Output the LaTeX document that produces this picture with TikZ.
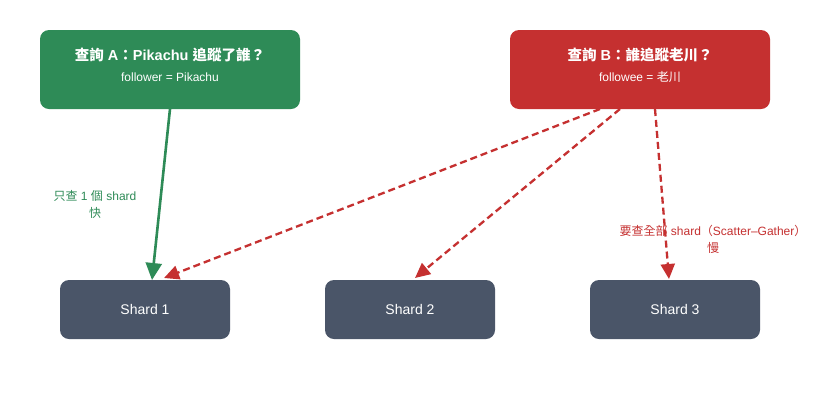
\documentclass[tikz,border=0pt]{standalone}
\usepackage{fontspec}
\setmainfont{Liberation Sans}
\newfontfamily\cjk{Noto Sans CJK TC}
\newcommand{\zh}[1]{{\cjk #1}}
\usetikzlibrary{arrows.meta}
\definecolor{cgreen}{HTML}{2E8B57}
\definecolor{cred}{HTML}{C53030}
\definecolor{cshard}{HTML}{4A5568}
\begin{document}
\begin{tikzpicture}[x=1pt,y=-1pt,
  qbox/.style={rounded corners=9pt,inner sep=0pt},
  shardbox/.style={fill=cshard,rounded corners=9pt,minimum width=170pt,minimum height=59pt,inner sep=0pt,text=white,font=\fontsize{14}{16}\selectfont},
  greenarrow/.style={draw=cgreen,line width=2.6pt,-{Triangle[length=17pt,width=16pt]}},
  redarrow/.style={draw=cred,line width=2.3pt,dash pattern=on 7pt off 4pt,-{Triangle[length=15pt,width=14pt]}},
  lbl/.style={font=\fontsize{12}{17}\selectfont,align=center}
]
\useasboundingbox (0,0) rectangle (820,400);
\fill[white] (0,0) rectangle (820,400);
% query boxes
\fill[cgreen,qbox] (40,30) rectangle (300,109);
\node[text=white,font=\bfseries\fontsize{14.5}{16}\selectfont] (ta) at (170,55) {\zh{查詢} A\zh{：}Pikachu \zh{追蹤了誰？}};
\node[text=white,font=\fontsize{12}{14}\selectfont] (sa) at (170,77) {follower = Pikachu};
\coordinate (qa) at (170,109);
\fill[cred,qbox] (510,30) rectangle (770,109);
\node[text=white,font=\bfseries\fontsize{14.5}{16}\selectfont] (tb) at (640,55) {\zh{查詢} B\zh{：誰追蹤老川？}};
\node[text=white,font=\fontsize{12}{14}\selectfont] (sb) at (640,77) {followee = \zh{老川}};
\coordinate (qb1) at (600,109);
\coordinate (qb2) at (620,109);
\coordinate (qb3) at (655,109);
% shards
\node[shardbox] (s1) at (145,309.5) {Shard 1};
\node[shardbox] (s2) at (410,309.5) {Shard 2};
\node[shardbox] (s3) at (675,309.5) {Shard 3};
\coordinate (e1g) at (152,280);
\coordinate (e1r) at (164,278);
\coordinate (e2) at (415,278);
\coordinate (e3) at (669,279);
% arrows
\draw[greenarrow] (qa) -- (e1g);
\draw[redarrow] (qb1) -- (e1r);
\draw[redarrow] (qb2) -- (e2);
\draw[redarrow] (qb3) -- (e3);
% labels
\node[lbl,text=cgreen] (la) at (95,204) {\zh{只查} 1 \zh{個} shard\\\zh{快}};
\node[lbl,text=cred] (lb) at (713,239) {\zh{要查全部} shard\zh{（}Scatter–Gather\zh{）}\\\zh{慢}};
\end{tikzpicture}
\end{document}
